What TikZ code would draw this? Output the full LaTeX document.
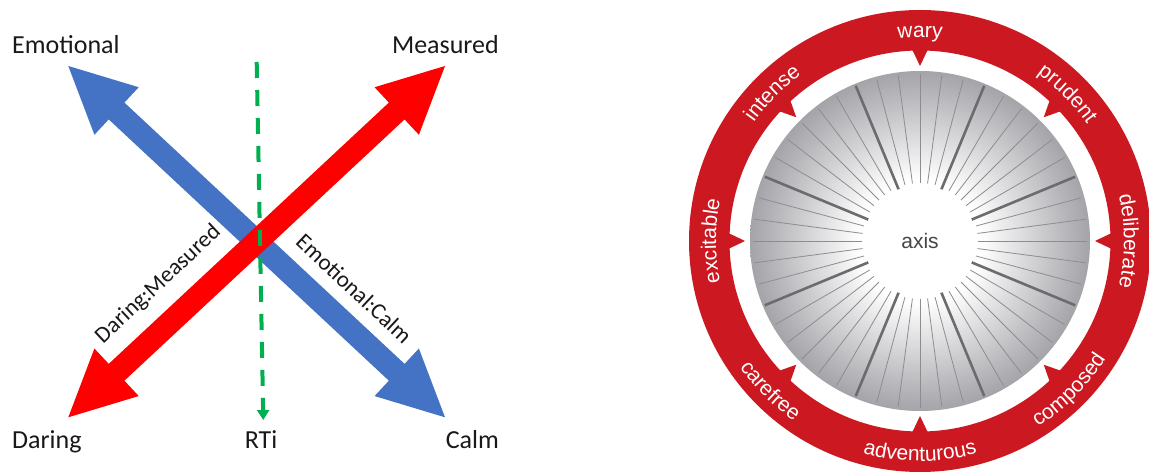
\documentclass[tikz,border=0pt]{standalone}
\usepackage{fontspec}
\setmainfont{Carlito}
\newfontfamily\ringfont{Liberation Sans}
\usetikzlibrary{calc,arrows.meta,decorations.text}
\definecolor{axblue}{HTML}{4472C4}
\definecolor{axred}{HTML}{FF0000}
\definecolor{rtigreen}{HTML}{00B050}
\definecolor{ringred}{RGB}{204,24,32}
\definecolor{raythin}{RGB}{140,140,145}
\definecolor{raythick}{RGB}{108,108,112}
\definecolor{axisgray}{RGB}{70,70,70}
\definecolor{lbltext}{RGB}{25,25,25}
\pgfdeclareradialshading{diskshade}{\pgfpoint{0bp}{0bp}}{rgb(0bp)=(1,1,1); rgb(9bp)=(1,1,1); rgb(25bp)=(0.64,0.64,0.66); rgb(50bp)=(0.64,0.64,0.66)}
\newcommand\FatArrow[3]{%
  \fill[#1] (#2) -- ($(#2)!73.57pt!26.21:(#3)$) -- ($(#2)!67pt!9.88:(#3)$)
    -- ($(#3)!67pt!-9.88:(#2)$) -- ($(#3)!73.57pt!-26.21:(#2)$) -- (#3)
    -- ($(#3)!73.57pt!26.21:(#2)$) -- ($(#3)!67pt!9.88:(#2)$)
    -- ($(#2)!67pt!-9.88:(#3)$) -- ($(#2)!73.57pt!-26.21:(#3)$) -- cycle;}
\newcommand\TopLabel[2]{%
  \path[decorate, decoration={text along path, text={|\ringfont\fontsize{21}{25}\selectfont|#2}, text align=center, text color=white}]
    ($(C)+(#1+40:204)$) arc[start angle=#1+40, end angle=#1-40, radius=204];}
\newcommand\BotLabel[2]{%
  \path[decorate, decoration={text along path, text={|\ringfont\fontsize{21}{25}\selectfont|#2}, text align=center, text color=white}]
    ($(C)+(#1-40:220)$) arc[start angle=#1-40, end angle=#1+40, radius=220];}
\begin{document}
\begin{tikzpicture}[x=1pt,y=1pt,
  lbl/.style={font=\fontsize{26}{30}\selectfont, text=lbltext, inner sep=0pt},
  diag/.style={font=\fontsize{23}{27}\selectfont, text=lbltext, inner sep=0pt}]
\useasboundingbox[fill=white] (0,0) rectangle (1149,473);
% ---------- left panel ----------
\coordinate (bA) at (68.3,407);
\coordinate (bB) at (445,55.7);
\coordinate (rA) at (68.3,55.7);
\coordinate (rB) at (445,407);
\FatArrow{axblue}{bA}{bB}
\FatArrow{axred}{rA}{rB}
\coordinate (gA) at (256.7,411);
\coordinate (gB) at (263.3,53);
\draw[rtigreen, line width=4pt, dash pattern=on 16pt off 12pt, -{Triangle[width=12pt,length=10pt]}] (gA) -- (gB);
\node[lbl, anchor=base west] (emo) at (12,419.7) {Emotional};
\node[lbl, anchor=base east] (mea) at (499,419.7) {Measured};
\node[lbl, anchor=base west] (dar) at (12,24.7) {Daring};
\node[lbl, anchor=base] (rti) at (261,24.7) {RTi};
\node[lbl, anchor=base east] (calm) at (499,24.7) {Calm};
\node[diag, rotate=43] (dm) at (158.3,188.5) {Daring:Measured};
\node[diag, rotate=-43] (ec) at (354.2,184.3) {Emotional:Calm};
% ---------- right panel ----------
\coordinate (C) at (920,232);
\fill[ringred, even odd rule] (C) circle[radius=231] (C) circle[radius=190.5];
\foreach \a in {0,45,...,315}
  \fill[ringred] ($(C)+(\a+2.4:192)$) -- ($(C)+(\a:175)$) -- ($(C)+(\a-2.4:192)$) -- cycle;
\shade[shading=diskshade] (C) circle[radius=170];
\foreach \k in {0,...,47}
  \draw[raythin, line width=0.8pt] ($(C)+(\k*7.5:58)$) -- ($(C)+(\k*7.5:167)$);
\foreach \k in {0,...,7}
  \draw[raythick, line width=2.6pt] ($(C)+(22.5+\k*45:56)$) -- ($(C)+(22.5+\k*45:168)$);
\node[font=\ringfont\fontsize{21}{25}\selectfont, text=axisgray] (axis) at (C) {axis};
\TopLabel{180}{excitable}
\TopLabel{135}{intense}
\TopLabel{90}{wary}
\TopLabel{45}{prudent}
\TopLabel{0}{deliberate}
\BotLabel{225}{carefree}
\BotLabel{270}{adventurous}
\BotLabel{315}{composed}
\end{tikzpicture}
\end{document}
